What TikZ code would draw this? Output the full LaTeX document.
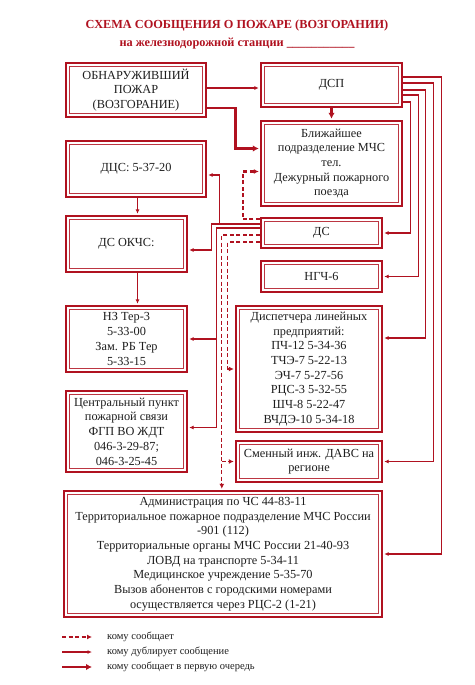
\documentclass[tikz,border=0pt]{standalone}
\usepackage{fontspec}
\setmainfont{Liberation Serif}
\usetikzlibrary{arrows.meta,calc}
\definecolor{fire}{RGB}{176,18,32}
\definecolor{ink}{RGB}{30,30,30}
\tikzset{
  box/.style={draw=fire, line width=2.4pt, fill=white, inner sep=0pt, align=center, text=ink,
    font=\fontsize{12.3}{14.7}\selectfont,
    path picture={\draw[fire!85, line width=0.8pt] ([shift={(3.2pt,3.2pt)}]path picture bounding box.south west) rectangle ([shift={(-3.2pt,-3.2pt)}]path picture bounding box.north east);}},
  headline/.style={text=fire, font=\bfseries\fontsize{12.3}{14}\selectfont, inner sep=0pt},
  legtext/.style={anchor=west, text=ink, inner sep=0pt, font=\fontsize{10.5}{12}\selectfont},
  dup/.style={draw=fire, line width=1.1pt, shorten >=1pt, -{Latex[length=4.5pt,width=4pt]}},
  first/.style={draw=fire, line width=2.6pt, shorten >=1pt, -{Latex[length=6pt,width=6.5pt]}},
  tell/.style={draw=fire, line width=1.3pt, dash pattern=on 4pt off 2.5pt, shorten >=1pt, -{Latex[length=5pt,width=5pt]}}
}
\begin{document}
\begin{tikzpicture}[x=1pt, y=-1pt]
  %%%%% START %%%%%
  \useasboundingbox (0,0) rectangle (474,685);

  \node[headline] (head) at (237,26) {СХЕМА СООБЩЕНИЯ О ПОЖАРЕ (ВОЗГОРАНИИ)};
  \node[headline] (sub) at (237,44) {на железнодорожной станции \_\_\_\_\_\_\_\_\_\_\_};

  \node[box, minimum width=140pt, minimum height=54pt] (obn) at (136,90) {ОБНАРУЖИВШИЙ\\ПОЖАР\\(ВОЗГОРАНИЕ)};
  \node[box, minimum width=141pt, minimum height=44pt] (dsp) at (331.5,85) {ДСП};
  \node[box, minimum width=141pt, minimum height=85pt] (mchs) at (331.5,163.5) {Ближайшее\\подразделение МЧС\\тел.\\Дежурный пожарного\\поезда};
  \node[box, minimum width=140pt, minimum height=56pt] (dcs) at (136,169) {ДЦС: 5-37-20};
  \node[box, minimum width=121pt, minimum height=56pt] (okchs) at (126.5,244) {ДС ОКЧС:};
  \node[box, minimum width=121pt, minimum height=30pt] (ds) at (321.5,233) {ДС};
  \node[box, minimum width=121pt, minimum height=31pt] (ngch) at (321.5,276.5) {НГЧ-6};
  \node[box, minimum width=121pt, minimum height=66pt] (nz) at (126.5,339) {НЗ Тер-3\\5-33-00\\Зам. РБ Тер\\5-33-15};
  \node[box, minimum width=121pt, minimum height=81pt] (cpps) at (126.5,431.5) {Центральный пункт\\пожарной связи\\ФГП ВО ЖДТ\\046-3-29-87;\\046-3-25-45};
  \node[box, minimum width=146pt, minimum height=126pt] (disp) at (309,369) {Диспетчера линейных\\предприятий:\\ПЧ-12 5-34-36\\ТЧЭ-7 5-22-13\\ЭЧ-7 5-27-56\\РЦС-3 5-32-55\\ШЧ-8 5-22-47\\ВЧДЭ-10 5-34-18};
  \node[box, minimum width=146pt, minimum height=41pt] (smen) at (309,461.5) {Сменный инж. ДАВС на\\регионе};
  \node[box, minimum width=318pt, minimum height=126pt] (bottom) at (223,554) {Администрация по ЧС 44-83-11\\Территориальное пожарное подразделение МЧС России\\-901 (112)\\Территориальные органы МЧС России 21-40-93\\ЛОВД на транспорте 5-34-11\\Медицинское учреждение 5-35-70\\Вызов абонентов с городскими номерами\\осуществляется через РЦС-2 (1-21)};

  % first in turn
  \draw[first] ([yshift=-18pt]obn.east) -- ++(28,0) |- ([yshift=15pt]mchs.west);
  \draw[first] (dsp.south) -- (mchs.north);

  % duplicates
  \draw[dup] ([yshift=2pt]obn.east) -- ([yshift=2pt]obn.east -| dsp.west);
  \draw[dup] ([xshift=11pt]okchs.north |- dcs.south) -- ([xshift=11pt]okchs.north);
  \draw[dup] ([xshift=11pt]okchs.south) -- ([xshift=11pt]nz.north);

  \draw[dup] ([yshift=8pt]dsp.east) -- ++(38,0) |- (bottom.east);
  \draw[dup] ([yshift=2pt]dsp.east) -- ++(30,0) |- (smen.east);
  \draw[dup] ([yshift=-5pt]dsp.east) -- ++(22,0) |- ([yshift=31pt]disp.east);
  \draw[dup] ([yshift=-10pt]dsp.east) -- ++(15,0) |- (ngch.east);
  \draw[dup] ([yshift=-17pt]dsp.east) -- ++(7,0) |- (ds.east);

  \draw[dup] ([yshift=9pt]ds.west) -- ++(-40,0) |- ([yshift=-6pt]dcs.east);
  \draw[dup] ([yshift=9pt]ds.west) -- ++(-48,0) |- ([yshift=-6pt]okchs.east);
  \draw[dup] ([yshift=5pt]ds.west) -- ++(-43,0) coordinate (dsfork) |- ([yshift=4pt]cpps.east);
  \draw[dup] (dsfork |- nz.east) -- (nz.east);

  % tells
  \draw[tell, line width=2.2pt] ([yshift=14pt]ds.west) -- ++(-17,0) |- ([yshift=-8pt]mchs.west);
  \draw[tell] ([yshift=-2pt]ds.west) -- ++(-38,0) coordinate (dsdrop) -- (dsdrop |- bottom.north);
  \draw[tell] (dsdrop |- smen.west) -- (smen.west);
  \draw[tell] ([yshift=-9pt]ds.west) -- ++(-32,0) |- (disp.west);

  % legend
  \node[legtext] (leg1) at (107,637) {кому сообщает};
  \node[legtext] (leg2) at (107,652) {кому дублирует сообщение};
  \node[legtext] (leg3) at (107,667) {кому сообщает в первую очередь};
  \draw[tell, shorten >=0pt] ([xshift=-45pt]leg1.west) -- ([xshift=-15pt]leg1.west);
  \draw[dup, shorten >=0pt] ([xshift=-45pt]leg2.west) -- ([xshift=-15pt]leg2.west);
  \draw[first, shorten >=0pt] ([xshift=-45pt]leg3.west) -- ([xshift=-15pt]leg3.west);
  %%%%% END %%%%%
\end{tikzpicture}
\end{document}
